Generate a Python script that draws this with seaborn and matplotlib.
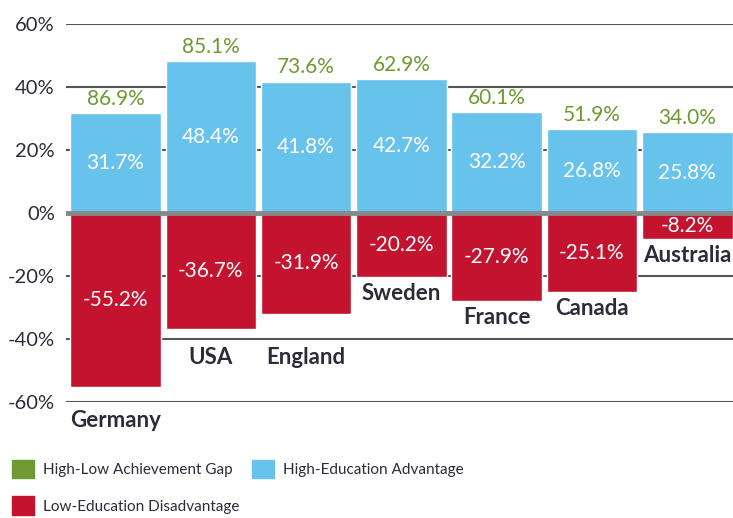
import matplotlib
matplotlib.use('Agg')
import matplotlib.pyplot as plt
import matplotlib.patches as mpatches
import seaborn as sns

# Data
countries = ['Germany', 'USA', 'England', 'Sweden', 'France', 'Canada', 'Australia']
achievement_gap = [86.9, 85.1, 73.6, 62.9, 60.1, 51.9, 34.0]
high_edu_advantage = [31.7, 48.4, 41.8, 42.7, 32.2, 26.8, 25.8]
low_edu_disadvantage = [-55.2, -36.7, -31.9, -20.2, -27.9, -25.1, -8.2]
yticks = [-60, -40, -20, 0, 20, 40, 60]

GREEN = '#6e9a34'
BLUE = '#68c3ec'
RED = '#c3132f'
TEXT = '#2b2b3a'

sns.set_style('white')
plt.rcParams['font.family'] = ['Lato', 'DejaVu Sans']

fig = plt.figure(figsize=(7.33, 5.18), dpi=100)
ax = fig.add_axes([0.09, 0.224, 0.91, 0.729])

# gridlines behind the bars
for t in yticks:
    if t != 0:
        ax.axhline(t, color='#555555', lw=1.5, zorder=0)

sns.barplot(x=countries, y=high_edu_advantage, color=BLUE, width=0.95,
            saturation=1, ax=ax, zorder=2)
sns.barplot(x=countries, y=low_edu_disadvantage, color=RED, width=0.95,
            saturation=1, ax=ax, zorder=2)
ax.axhline(0, color='#888888', lw=3.5, zorder=3)

ax.bar_label(ax.containers[0], labels=[f'{v:.1f}%' for v in high_edu_advantage],
             label_type='center', color='white', fontsize=15)
ax.bar_label(ax.containers[1], labels=[f'{v:.1f}%' for v in low_edu_disadvantage],
             label_type='center', color='white', fontsize=15)
ax.bar_label(ax.containers[0], labels=[f'{v:.1f}%' for v in achievement_gap],
             padding=3, color=GREEN, fontsize=15)

# country names under the red bars, pushed below a gridline when they would cross it
for i, (name, v) in enumerate(zip(countries, low_edu_disadvantage)):
    y = v - 2.0
    for g in (-20, -40, -60):
        if y - 6.5 < g < v:
            y = g - 2.5
    ax.text(i, y, name, ha='center', va='top', fontsize=16, fontweight='bold',
            color=TEXT, clip_on=False)

ax.set_ylim(-60, 60)
ax.set_xlim(-0.52, 6.48)
ax.set_yticks(yticks)
ax.set_yticklabels([f'{t}%' for t in yticks], fontsize=14.5, color=TEXT)
ax.set_xticks([])
ax.set_xlabel('')
ax.tick_params(axis='y', length=0, pad=8)
for s in ax.spines.values():
    s.set_visible(False)

handles = [mpatches.Patch(color=GREEN, label='High-Low Achievement Gap'),
           mpatches.Patch(color=RED, label='Low-Education Disadvantage'),
           mpatches.Patch(color=BLUE, label='High-Education Advantage')]
fig.legend(handles=handles, ncol=2, loc='upper left', bbox_to_anchor=(0.0164, 0.112),
           frameon=False, fontsize=11, borderpad=0, borderaxespad=0,
           handlelength=1.45, handleheight=1.45, handletextpad=0.6,
           columnspacing=0.8, labelspacing=1.2, labelcolor=TEXT)

fig.savefig('out.png', dpi=100)
